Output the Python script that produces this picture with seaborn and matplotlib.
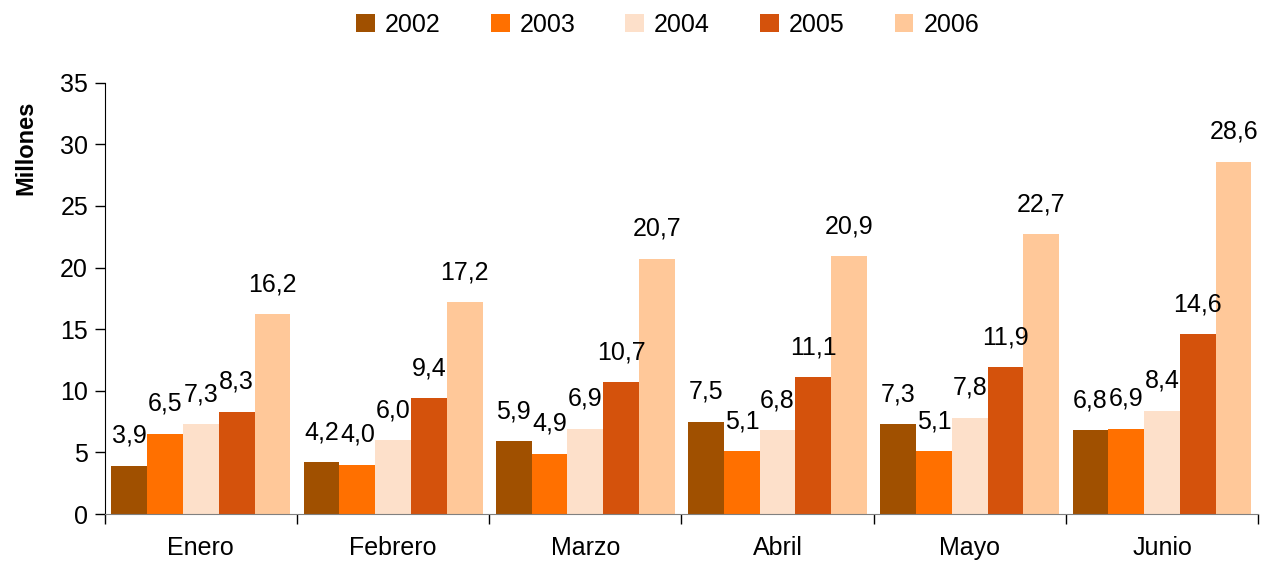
import pandas as pd
import matplotlib.pyplot as plt
import seaborn as sns

# Data
months = ['Enero', 'Febrero', 'Marzo', 'Abril', 'Mayo', 'Junio']
years = ['2002', '2003', '2004', '2005', '2006']
v2002 = [3.9, 4.2, 5.9, 7.5, 7.3, 6.8]
v2003 = [6.5, 4.0, 4.9, 5.1, 5.1, 6.9]
v2004 = [7.3, 6.0, 6.9, 6.8, 7.8, 8.4]
v2005 = [8.3, 9.4, 10.7, 11.1, 11.9, 14.6]
v2006 = [16.2, 17.2, 20.7, 20.9, 22.7, 28.6]
colors = ['#A05000', '#FF7000', '#FDE0CA', '#D4520C', '#FFC899']

rows = []
for year, vals in zip(years, [v2002, v2003, v2004, v2005, v2006]):
    for m, v in zip(months, vals):
        rows.append({'Mes': m, 'Año': year, 'Valor': v})
df = pd.DataFrame(rows)

sns.set_style('white')
plt.rcParams['font.family'] = ['Liberation Sans', 'DejaVu Sans']
plt.rcParams['text.color'] = 'black'
plt.rcParams['axes.labelcolor'] = 'black'
plt.rcParams['xtick.color'] = 'black'
plt.rcParams['ytick.color'] = 'black'

fig, ax = plt.subplots(figsize=(12.62, 5.63), dpi=100)
fig.subplots_adjust(left=0.083, right=0.997, top=0.853, bottom=0.087)

sns.barplot(data=df, x='Mes', y='Valor', hue='Año', order=months, hue_order=years,
            palette=colors, width=0.93, gap=0, saturation=1, linewidth=0,
            ax=ax, legend=True)

# data labels
for cont in ax.containers:
    ax.bar_label(cont, labels=[f'{b.get_height():.1f}'.replace('.', ',') for b in cont],
                 padding=13, fontsize=18, color='black')

ax.set_ylim(0, 35)
ax.set_yticks(range(0, 36, 5))
ax.set_xlim(-0.5, len(months) - 0.5)
ax.set_xlabel('')
ax.set_ylabel('Millones', fontsize=17, fontweight='bold')
ax.yaxis.set_label_coords(-0.058, 0.85)

# category boundary ticks on the x-axis
ax.set_xticks([i - 0.5 for i in range(len(months) + 1)], minor=True)
ax.tick_params(axis='x', which='major', bottom=False, length=0, labelsize=18, pad=16)
ax.tick_params(axis='x', which='minor', bottom=True, length=7, width=1, color='black',
               direction='out')
ax.tick_params(axis='y', left=True, length=7, width=1, color='black', direction='out',
               labelsize=18, pad=5)

sns.despine(ax=ax)
ax.spines['left'].set_color('black')
ax.spines['bottom'].set_color('#808080')

ax.legend(loc='upper center', bbox_to_anchor=(0.488, 1.215), ncol=5, frameon=False,
          fontsize=18, handlelength=0.75, handleheight=0.75, handletextpad=0.4,
          columnspacing=2.0)

fig.savefig('out.png', dpi=100)
